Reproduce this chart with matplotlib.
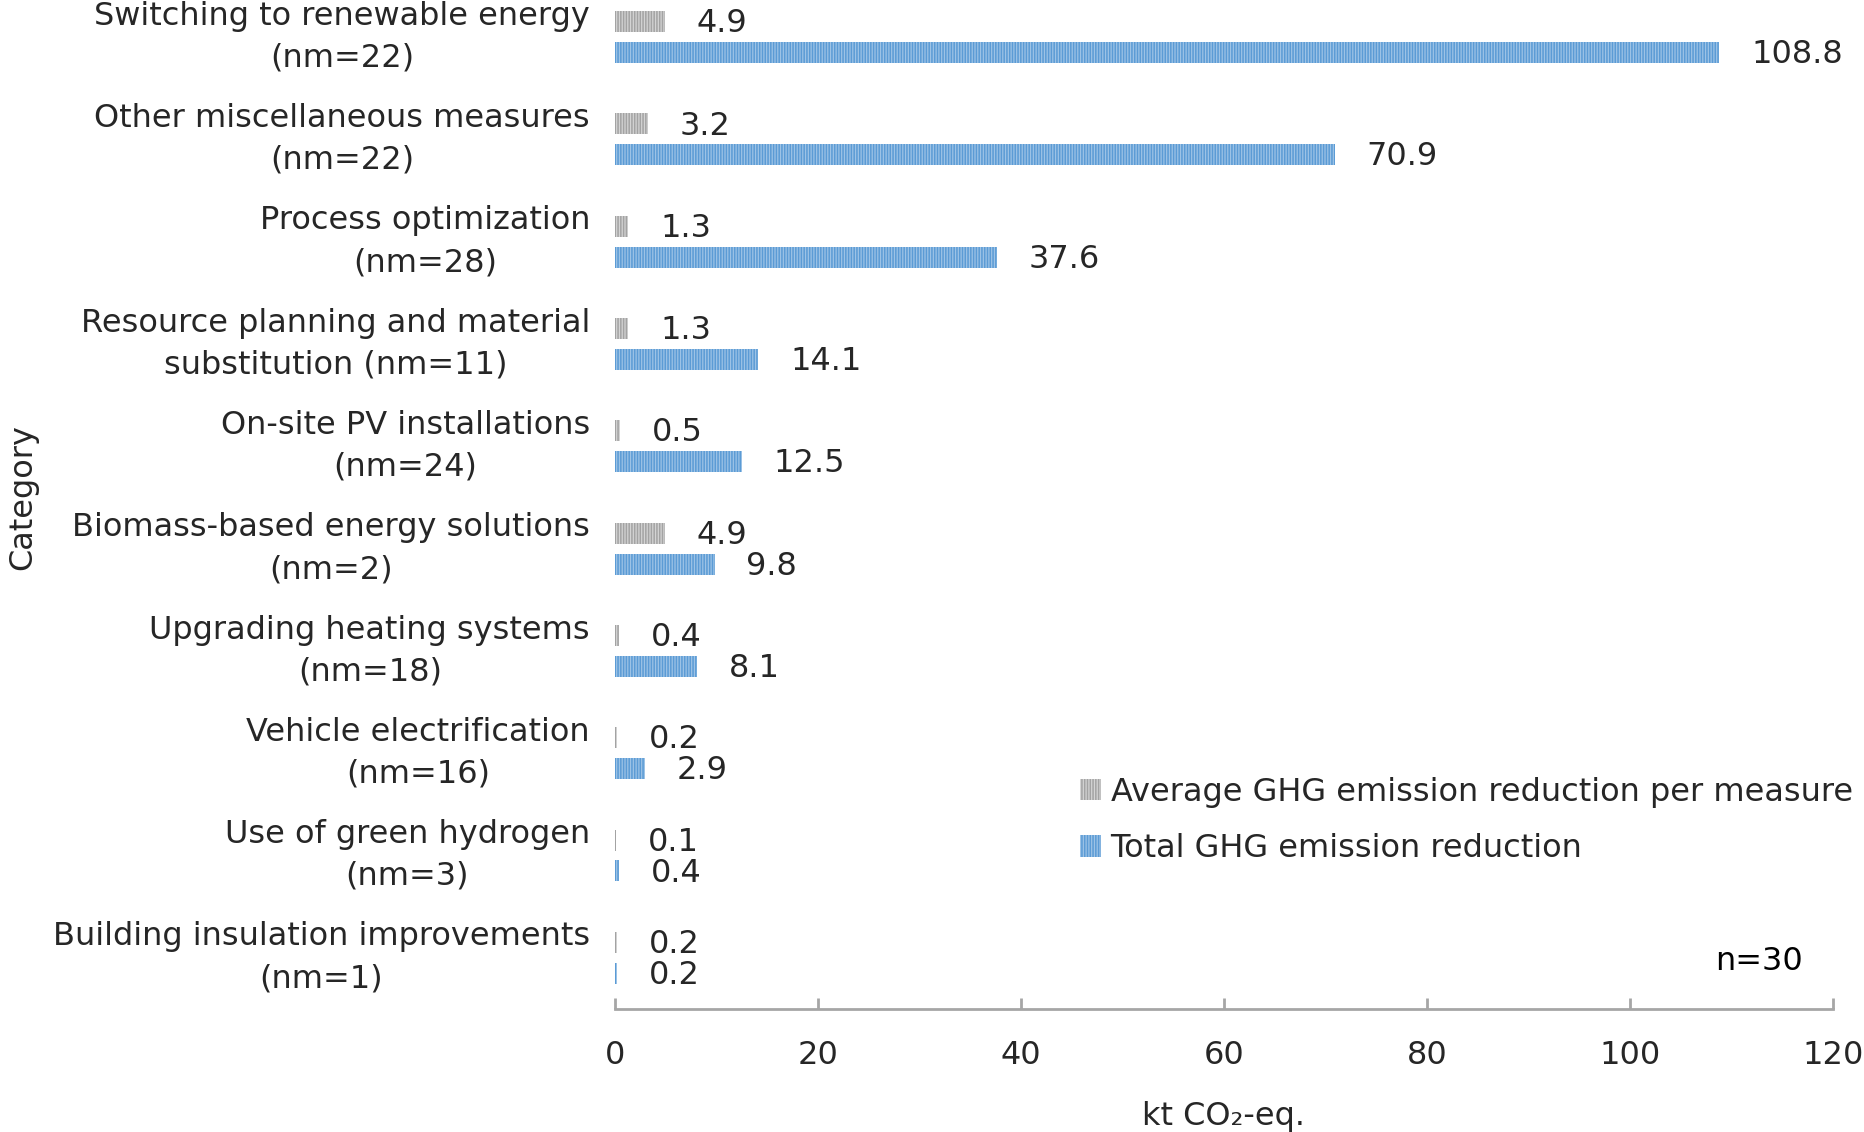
import matplotlib
matplotlib.use("Agg")
import matplotlib.pyplot as plt
import numpy as np

plt.rcParams['font.family'] = ['DejaVu Sans']
plt.rcParams['hatch.linewidth'] = 1.1

# data (top to bottom)
categories = [
    "Switching to renewable energy\n(nm=22)",
    "Other miscellaneous measures\n(nm=22)",
    "Process optimization\n(nm=28)",
    "Resource planning and material\nsubstitution (nm=11)",
    "On-site PV installations\n(nm=24)",
    "Biomass-based energy solutions\n(nm=2)",
    "Upgrading heating systems\n(nm=18)",
    "Vehicle electrification\n(nm=16)",
    "Use of green hydrogen\n(nm=3)",
    "Building insulation improvements\n(nm=1)",
]
avg_reduction = [4.9, 3.2, 1.3, 1.3, 0.5, 4.9, 0.4, 0.2, 0.1, 0.2]
total_reduction = [108.8, 70.9, 37.6, 14.1, 12.5, 9.8, 8.1, 2.9, 0.4, 0.2]
xticks = [0, 20, 40, 60, 80, 100, 120]

txt = '#262626'
axis_gray = '#A6A6A6'
fs = 23

fig = plt.figure(figsize=(18.65, 11.32), dpi=100)
ax = fig.add_axes([0.3298, 0.1087, 0.653, 0.9037])

y = np.arange(len(categories))
h = 0.205
off = 0.151

b1 = ax.barh(y - off, avg_reduction, height=h, color='#D4D4D4', edgecolor='#A3A3A3',
             linewidth=0, hatch='||||||', label='Average GHG emission reduction per measure')
b2 = ax.barh(y + off, total_reduction, height=h, color='#9DC3E6', edgecolor='#5B9BD5',
             linewidth=0, hatch='||||||', label='Total GHG emission reduction')

for bars, vals in [(b1, avg_reduction), (b2, total_reduction)]:
    for bar, v in zip(bars, vals):
        ax.annotate(f"{v:.1f}", (bar.get_width(), bar.get_y() + bar.get_height() / 2),
                    xytext=(23, -1.5), textcoords='offset points', ha='left', va='center',
                    fontsize=fs, color=txt)

ax.set_ylim(len(categories) - 0.5, -0.5)
ax.set_xlim(0, 120)
ax.set_xticks(xticks)
ax.set_yticks(y)
ax.set_yticklabels(categories)
for t in ax.get_yticklabels():
    t.set_multialignment('center')
    t.set_linespacing(1.45)
    t.set_verticalalignment('center')

for s in ['top', 'right', 'left']:
    ax.spines[s].set_visible(False)
ax.spines['bottom'].set_color(axis_gray)
ax.spines['bottom'].set_linewidth(2.0)
ax.tick_params(axis='x', direction='in', length=8, width=2.0, color=axis_gray,
               pad=22, labelsize=fs, labelcolor=txt)
ax.tick_params(axis='y', length=0, pad=18, labelsize=fs, labelcolor=txt)

ax.set_xlabel("kt CO₂-eq.", fontsize=fs, color=txt)
ax.xaxis.set_label_coords(0.5, -0.09)
ax.set_ylabel("Category", fontsize=fs, color=txt)
ax.yaxis.set_label_coords(-0.474, 0.5)

fig.legend(handles=[b1, b2], loc='upper left', bbox_to_anchor=(0.579, 0.314),
           frameon=False, fontsize=fs, handlelength=0.66, handleheight=0.66,
           handletextpad=0.3, labelspacing=0.8, borderpad=0, borderaxespad=0,
           labelcolor=txt)

fig.text(1803 / 1865, 1 - 961 / 1132, "n=30", ha='right', va='center',
         fontsize=fs, color='black')

fig.savefig("out.png", dpi=100)
